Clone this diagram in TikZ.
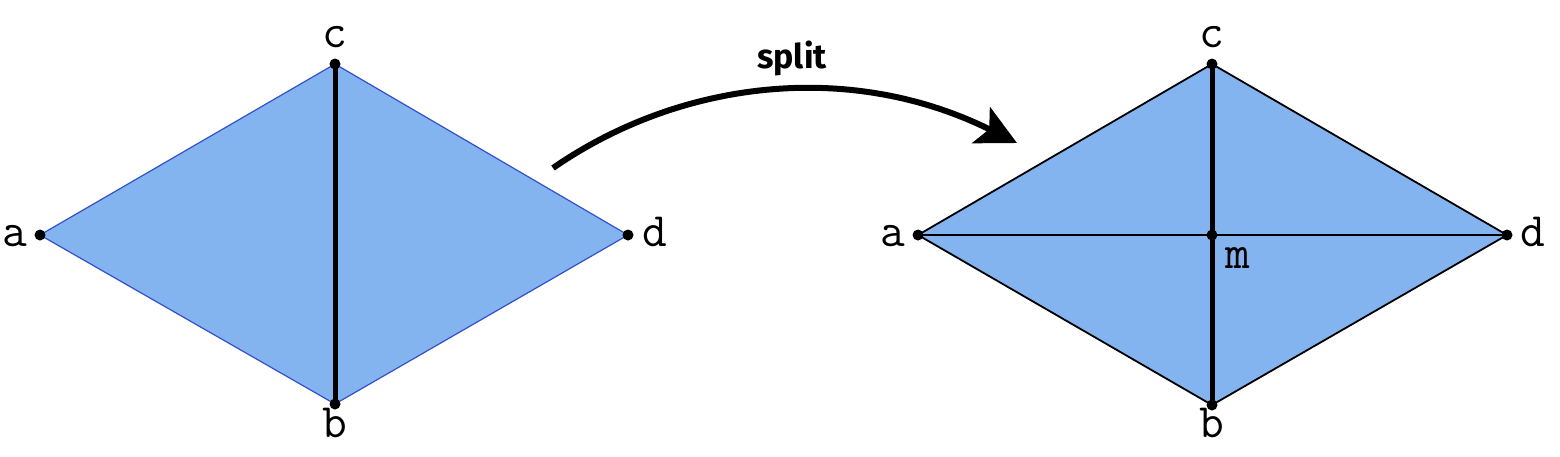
\documentclass[tikz,border=0pt]{standalone}
\usepackage{fontspec}
\newfontfamily\splitfont{Fira Sans}[UprightFont=* Bold]
\usetikzlibrary{arrows.meta}
\definecolor{fillblue}{RGB}{132,180,240}
\definecolor{edgeblue}{RGB}{50,80,200}
\tikzset{
  vdot/.style={circle,fill=black,inner sep=0pt,minimum size=11pt},
  lbl/.style={font=\ttfamily\fontsize{48}{52}\selectfont,inner sep=0pt,anchor=base},
  thickedge/.style={line width=5pt},
}
\begin{document}
\begin{tikzpicture}[x=1pt,y=-1pt]
\useasboundingbox (0,0) rectangle (1560,456);
% left mesh
\coordinate (La) at (40,235);
\coordinate (Lc) at (335,64);
\coordinate (Lb) at (335,404);
\coordinate (Ld) at (628,235);
\fill[fillblue] (La) -- (Lc) -- (Ld) -- (Lb) -- cycle;
\draw[edgeblue,line width=1.2pt] (La) -- (Lc) -- (Ld) -- (Lb) -- cycle;
\draw[thickedge] (Lc) -- (Lb);
\foreach \p in {La,Lb,Lc,Ld} \node[vdot] at (\p) {};
\node[lbl] (la) at (15,246) {a};
\node[lbl] (lc) at (335,47) {c};
\node[lbl] (lb) at (335,437) {b};
\node[lbl] (ld) at (655,246) {d};
% right mesh
\coordinate (Ra) at (918,235);
\coordinate (Rc) at (1212,64);
\coordinate (Rb) at (1212,405);
\coordinate (Rd) at (1507,235);
\coordinate (Rm) at (1212,235);
\fill[fillblue] (Ra) -- (Rc) -- (Rd) -- (Rb) -- cycle;
\draw[line width=1.8pt] (Ra) -- (Rc) -- (Rd) -- (Rb) -- cycle;
\draw[line width=1.8pt] (Ra) -- (Rd);
\draw[thickedge] (Rc) -- (Rb);
\foreach \p in {Ra,Rb,Rc,Rd,Rm} \node[vdot] at (\p) {};
\node[lbl] (ra) at (893,246) {a};
\node[lbl] (rc) at (1212,47) {c};
\node[lbl] (rb) at (1212,437) {b};
\node[lbl] (rd) at (1533,246) {d};
\node[lbl] (rm) at (1238,268) {m};
% arrow
\coordinate (s0) at (553,168);
\coordinate (s1) at (1017,143);
\draw[line width=6pt,-{Stealth[length=40pt,width=40pt,inset=9pt]}] (s0) .. controls (680,80) and (850,60) .. (s1);
\node[font=\splitfont\fontsize{34}{40}\selectfont,inner sep=0pt] (split) at (792,58) {split};
\end{tikzpicture}
\end{document}
